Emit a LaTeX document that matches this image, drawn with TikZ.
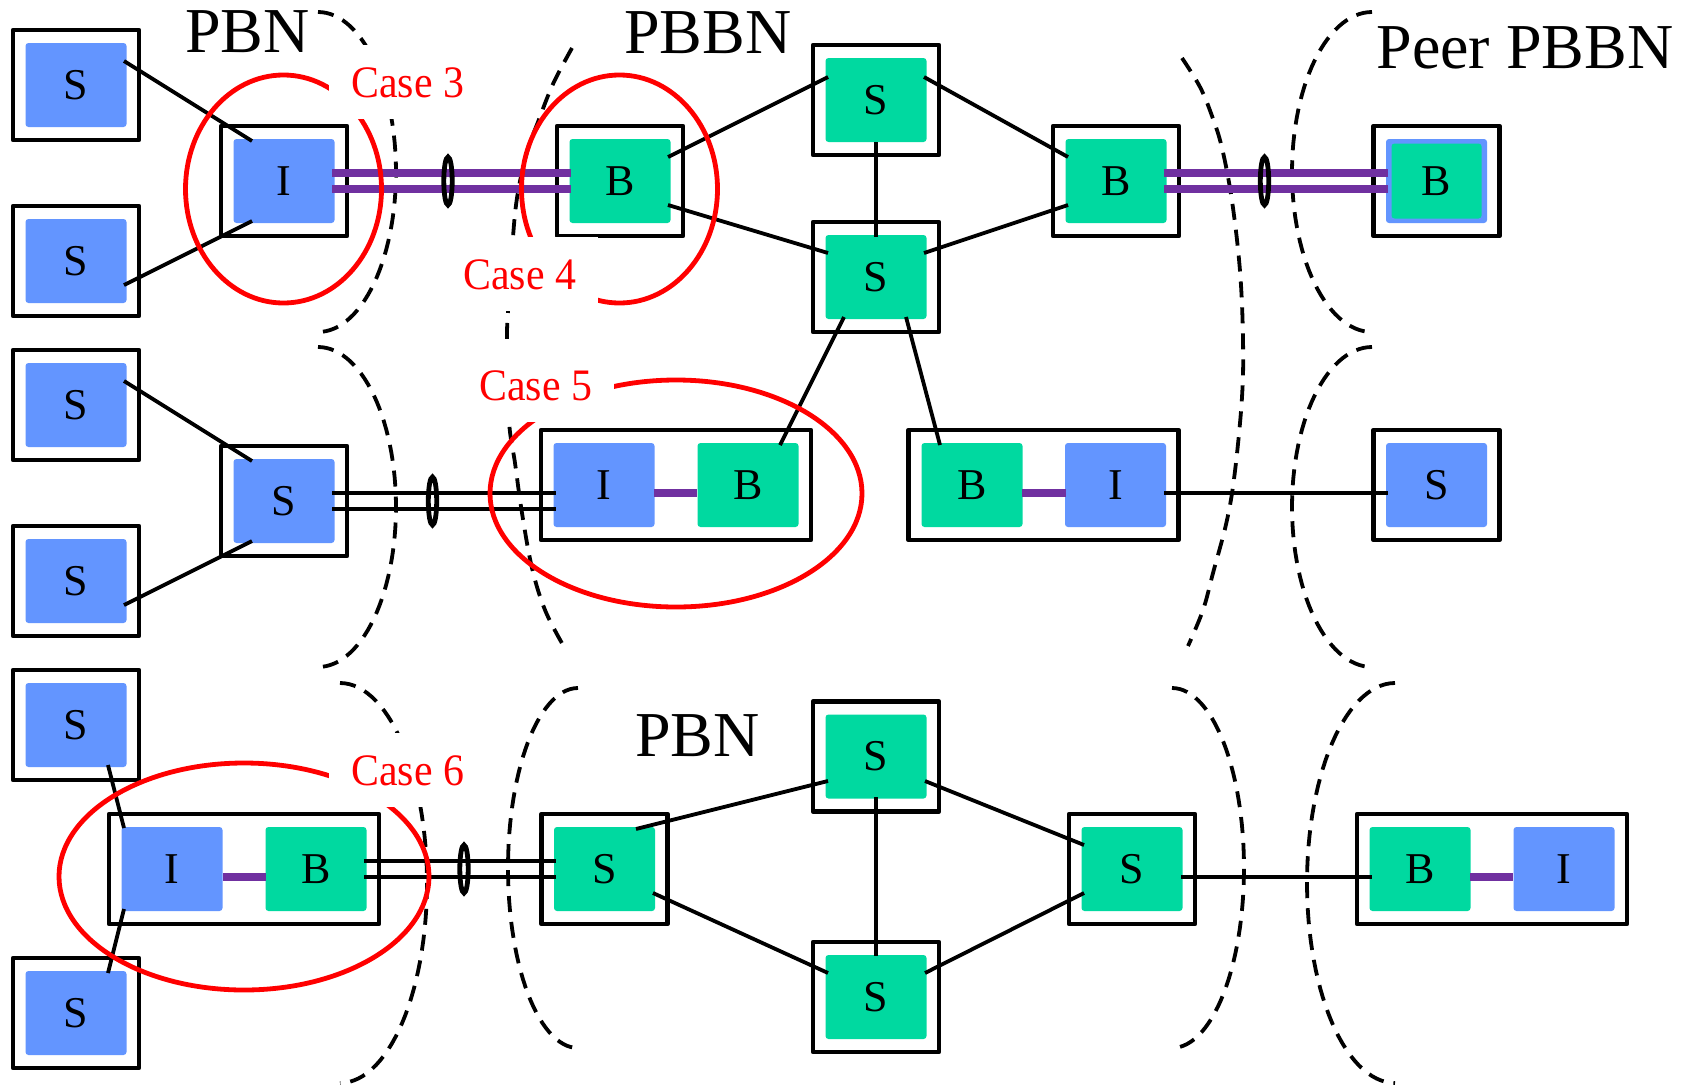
\documentclass[tikz,border=0pt]{standalone}
\usepackage{fontspec}
\setmainfont{Liberation Serif}
\newfontfamily\casefont[FakeStretch=0.93]{Liberation Serif}
\usetikzlibrary{calc}
\definecolor{nodeblue}{RGB}{99,149,255}
\definecolor{nodegreen}{RGB}{0,217,160}
\definecolor{linkpurple}{RGB}{112,48,160}

\begin{document}
\begin{tikzpicture}[x=0.5pt,y=-0.5pt,
  box/.style={draw=black,line width=2.4pt,fill=white,minimum width=63pt,
    minimum height=55pt,inner sep=0pt,line join=round},
  widebox/.style={box,minimum width=135pt},
  dev/.style={rounded corners=1.5pt,minimum width=50.5pt,minimum height=42pt,
    inner sep=0pt,font=\fontsize{22}{22}\selectfont},
  bluedev/.style={dev,fill=nodeblue},
  greendev/.style={dev,fill=nodegreen},
  conn/.style={line width=1.9pt},
  plink/.style={draw=linkpurple,line width=3.6pt},
  region/.style={line width=1.9pt,dash pattern=on 8pt off 5pt},
  lag/.style={line width=2.4pt},
  casering/.style={draw=red,line width=2.4pt},
  casebox/.style={text=red,fill=white,inner sep=11pt,anchor=base west,
    font=\casefont\fontsize{22.5}{22.5}\selectfont},
  title/.style={anchor=base west,inner sep=0pt,font=\fontsize{32}{32}\selectfont}]

\useasboundingbox (0,0) rectangle (1686,1087);

% ---------- network boundaries ----------
\draw[region] plot[domain=-90:90,samples=60] ({318+78*cos(\x)},{172+160*sin(\x)});
\draw[region] plot[domain=-90:90,samples=60] ({318+78*cos(\x)},{507+160*sin(\x)});
\draw[region] plot[domain=-90:90,samples=60] ({340+87*cos(\x)},{883+200*sin(\x)});
\draw[region] plot[smooth,tension=0.6] coordinates {(572,48) (553,84) (538,122) (527,152)
  (517,198) (512,250) (508,311) (507,345) (509,421) (515,463) (522,513) (532,568)
  (545,610) (563,645)};
\draw[region] plot[domain=-90:90,samples=60] ({578-70*cos(\x)},{868+180*sin(\x)});
\draw[region] plot[smooth,tension=0.6] coordinates {(1182,58) (1200,87) (1212,116)
  (1222,148) (1232,201) (1240,271) (1243,340) (1242,397) (1235,471) (1227,520)
  (1213,573) (1203,610) (1188,646)};
\draw[region] plot[domain=-90:90,samples=60] ({1172+72*cos(\x)},{868+180*sin(\x)});
\draw[region] plot[domain=-90:90,samples=60] ({1372-80*cos(\x)},{172+160*sin(\x)});
\draw[region] plot[domain=-90:90,samples=60] ({1372-80*cos(\x)},{507+160*sin(\x)});
\draw[region] plot[domain=-90:90,samples=60] ({1395-88*cos(\x)},{883+200*sin(\x)});

% ---------- top row ----------
\node[box] (s1o) at (76,85) {};   \node[bluedev] (s1) at (76,85) {S};
\node[box] (s2o) at (76,261) {};  \node[bluedev] (s2) at (76,261) {S};
\node[box] (i1o) at (284,181) {}; \node[bluedev] (i1) at (284,181) {I};
\node[box] (b1o) at (620,181) {}; \node[greendev] (b1) at (620,181) {B};
\node[box] (psto) at (876,100) {}; \node[greendev] (pst) at (876,100) {S};
\node[box] (pslo) at (876,277) {}; \node[greendev] (psl) at (876,277) {S};
\node[box] (b2o) at (1116,181) {}; \node[greendev] (b2) at (1116,181) {B};
\node[box] (bpo) at (1436.5,181) {}; \node[dev,fill=nodeblue] (bp) at (1436.5,181) {};
\node[greendev,minimum width=45pt,minimum height=37.5pt] (bpg) at (1436.5,181) {B};

% ---------- middle row ----------
\node[box] (s3o) at (76,405) {};  \node[bluedev] (s3) at (76,405) {S};
\node[box] (s4o) at (76,581) {};  \node[bluedev] (s4) at (76,581) {S};
\node[box] (smo) at (284,501) {}; \node[bluedev] (sm) at (284,501) {S};
\node[widebox] (ib5) at (676,485) {};
\node[bluedev] (i5) at (604,485) {I}; \node[greendev] (b5) at (748,485) {B};
\node[widebox] (bi6) at (1043.5,485) {};
\node[greendev] (b6) at (972,485) {B}; \node[bluedev] (i6) at (1115.5,485) {I};
\node[box] (sro) at (1436.5,485) {}; \node[bluedev] (sr) at (1436.5,485) {S};

% ---------- bottom row ----------
\node[box] (s5o) at (76,725) {};  \node[bluedev] (s5) at (76,725) {S};
\node[box] (s6o) at (76,1013) {}; \node[bluedev] (s6) at (76,1013) {S};
\node[widebox] (ib7) at (244,869) {};
\node[bluedev] (i7) at (172,869) {I}; \node[greendev] (b7) at (316,869) {B};
\node[box] (slo) at (604.5,869) {}; \node[greendev] (sl) at (604.5,869) {S};
\node[box] (sto) at (876,756.5) {}; \node[greendev] (st) at (876,756.5) {S};
\node[box] (sbo) at (876,997) {};   \node[greendev] (sb) at (876,997) {S};
\node[box] (srro) at (1132,869) {}; \node[greendev] (srr) at (1132,869) {S};
\node[widebox] (bi8) at (1492,869) {};
\node[greendev] (b8) at (1420,869) {B}; \node[bluedev] (i8) at (1564,869) {I};

% ---------- links, top row ----------
\draw[conn] ($(s1.center)+(48,-24)$) -- ($(i1.center)+(-32,-40)$);
\draw[conn] ($(s2.center)+(48,24)$) -- ($(i1.center)+(-32,40)$);
\draw[plink] ($(i1.center)+(48,-8)$) -- ($(b1.center)+(-49,-8)$);
\draw[plink] ($(i1.center)+(48,8)$) -- ($(b1.center)+(-49,8)$);
\draw[conn] ($(b1.center)+(48,-24)$) -- ($(pst.center)+(-48,-23)$);
\draw[conn] ($(b1.center)+(48,24)$) -- ($(psl.center)+(-48,-24)$);
\draw[conn] ($(pst.center)+(48,-23)$) -- ($(b2.center)+(-48,-24)$);
\draw[conn] ($(psl.center)+(48,-24)$) -- ($(b2.center)+(-48,24)$);
\draw[conn] ($(pst.center)+(0,42)$) -- ($(psl.center)+(0,-40)$);
\draw[plink] ($(b2.center)+(48,-8)$) -- ($(bp.center)+(-49,-8)$);
\draw[plink] ($(b2.center)+(48,8)$) -- ($(bp.center)+(-49,8)$);

% ---------- links, middle row ----------
\draw[conn] ($(s3.center)+(48,-24)$) -- ($(sm.center)+(-32,-40)$);
\draw[conn] ($(s4.center)+(48,24)$) -- ($(sm.center)+(-32,40)$);
\draw[conn] ($(sm.center)+(48,-8)$) -- ($(i5.center)+(-48,8)$);
\draw[conn] ($(sm.center)+(48,8)$) -- ($(i5.center)+(-48,24)$);
\draw[plink] ($(i5.center)+(50,8)$) -- ($(b5.center)+(-51,8)$);
\draw[plink] ($(b6.center)+(50,8)$) -- ($(i6.center)+(-49.5,8)$);
\draw[conn] ($(i6.center)+(48.5,8)$) -- ($(sr.center)+(-49,8)$);
\draw[conn] ($(psl.center)+(-32,40)$) -- ($(b5.center)+(32,-40)$);
\draw[conn] ($(psl.center)+(30,40)$) -- ($(b6.center)+(-32,-40)$);

% ---------- links, bottom row ----------
\draw[conn] ($(s5.center)+(32,40)$) -- ($(i7.center)+(-48,-41)$);
\draw[conn] ($(s6.center)+(32,-40)$) -- ($(i7.center)+(-48,40)$);
\draw[plink] ($(i7.center)+(51,8)$) -- ($(b7.center)+(-50,8)$);
\draw[conn] ($(b7.center)+(48,-8)$) -- ($(sl.center)+(-48.5,-8)$);
\draw[conn] ($(b7.center)+(48,8)$) -- ($(sl.center)+(-48.5,8)$);
\draw[conn] ($(sl.center)+(31.5,-40)$) -- ($(st.center)+(-48,24.5)$);
\draw[conn] ($(sl.center)+(48.5,24)$) -- ($(sb.center)+(-48,-24)$);
\draw[conn] ($(st.center)+(49,24.5)$) -- ($(srr.center)+(-48,-24)$);
\draw[conn] ($(sb.center)+(49,-24)$) -- ($(srr.center)+(-48,24)$);
\draw[conn] ($(st.center)+(0,40.5)$) -- ($(sb.center)+(0,-41)$);
\draw[conn] ($(srr.center)+(49,8)$) -- ($(b8.center)+(-48.5,8)$);
\draw[plink] ($(b8.center)+(50,8)$) -- ($(i8.center)+(-51,8)$);

% ---------- link aggregation marks ----------
\draw[lag] (448,181) ellipse [x radius=2.1pt,y radius=12pt];
\draw[lag] (1264.5,181) ellipse [x radius=2.1pt,y radius=12pt];
\draw[lag] (432.5,501) ellipse [x radius=2.1pt,y radius=12pt];
\draw[lag] (464,869) ellipse [x radius=2.1pt,y radius=12pt];

% ---------- case rings ----------
\draw[casering] (283.5,189) ellipse [x radius=49pt,y radius=57pt];
\draw[casering] (619.5,189) ellipse [x radius=49pt,y radius=57pt];
\draw[casering] (676,493.5) ellipse [x radius=93pt,y radius=56.75pt];
\draw[casering] (244,876.5) ellipse [x radius=92.5pt,y radius=56.75pt];

% ---------- labels ----------
\node[casebox] (c3) at (329,97) {Case 3};
\node[casebox] (c4) at (441,289) {Case 4};
\node[casebox] (c5) at (457,400) {Case 5};
\node[casebox] (c6) at (329,785) {Case 6};
\node[title] (pbn1) at (185,52) {PBN};
\node[title] (pbbn) at (624,53) {PBBN};
\node[title] (peer) at (1376,68) {Peer PBBN};
\node[title] (pbn2) at (635,756) {PBN};
\end{tikzpicture}
\end{document}
